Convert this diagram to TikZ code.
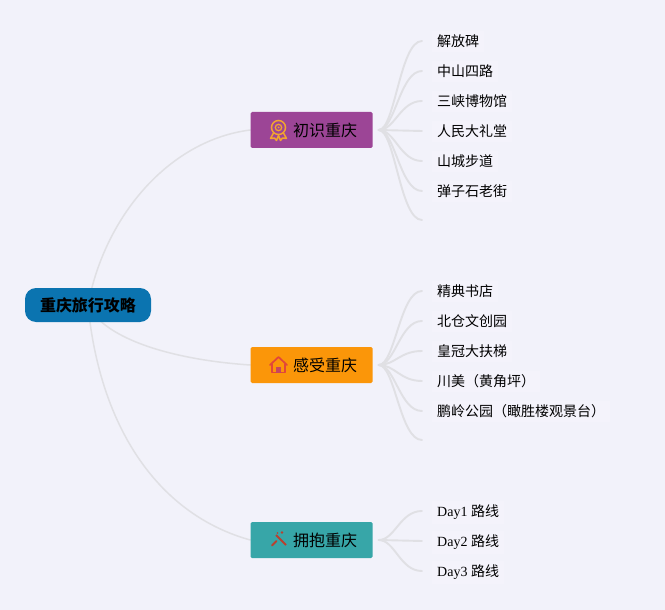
\documentclass[tikz,border=0pt]{standalone}
\usepackage{fontspec}
\usetikzlibrary{backgrounds}
\setmainfont{Liberation Serif}
\newfontfamily\cjk{Noto Sans CJK SC}
\definecolor{bgc}{HTML}{F2F2FA}
\definecolor{itemc}{HTML}{F4F3FB}
\definecolor{linkc}{HTML}{E0E0E4}
\definecolor{rootc}{HTML}{0B74B0}
\definecolor{purplec}{HTML}{9C4596}
\definecolor{orangec}{HTML}{FB9609}
\definecolor{tealc}{HTML}{37A6A8}
\definecolor{goldc}{HTML}{F2A52F}
\definecolor{redc}{HTML}{E2463A}
\definecolor{brickc}{HTML}{B9402F}
\tikzset{
  link/.style={draw=linkc,line width=1.5pt,line cap=round},
  sublink/.style={draw=linkc,line width=1.9pt,line cap=round},
  rootbox/.style={rounded corners=11pt,fill=rootc,minimum width=126pt,minimum height=34pt,inner sep=0pt,font=\cjk\fontsize{16}{18}\selectfont\bfseries,text=black},
  branchbox/.style={rounded corners=1.5pt,minimum width=122pt,minimum height=36pt,inner sep=0pt,font=\cjk\fontsize{16}{18}\selectfont,text=black},
  itembox/.style={anchor=west,fill=itemc,inner xsep=5pt,inner ysep=4pt,font=\fontsize{14}{16}\selectfont,text=black}
}
\begin{document}
\begin{tikzpicture}[x=1pt,y=-1pt]
\useasboundingbox (0,0) rectangle (665,610);

\node[itembox] (a1) at (432,41.6) {{\cjk 解放碑}};
\node[itembox] (a2) at (432,71.6) {{\cjk 中山四路}};
\node[itembox] (a3) at (432,101.6) {{\cjk 三峡博物馆}};
\node[itembox] (a4) at (432,131.6) {{\cjk 人民大礼堂}};
\node[itembox] (a5) at (432,161.6) {{\cjk 山城步道}};
\node[itembox] (a6) at (432,191.6) {{\cjk 弹子石老街}};
\coordinate (a7) at (422,220);
\node[itembox] (b1) at (432,291.6) {{\cjk 精典书店}};
\node[itembox] (b2) at (432,321.6) {{\cjk 北仓文创园}};
\node[itembox] (b3) at (432,351.6) {{\cjk 皇冠大扶梯}};
\node[itembox] (b4) at (432,381.6) {{\cjk 川美（黄角坪）}};
\node[itembox] (b5) at (432,411.6) {{\cjk 鹏岭公园（瞰胜楼观景台）}};
\coordinate (b6) at (422,440);
\node[itembox] (c1) at (432,512.4) {Day1 {\cjk 路线}};
\node[itembox] (c2) at (432,542.4) {Day2 {\cjk 路线}};
\node[itembox] (c3) at (432,572.4) {Day3 {\cjk 路线}};

\node[rootbox] (root) at (88,305) {重庆旅行攻略};
\node[branchbox,fill=purplec] (A) at (311.5,130) {\hspace*{27pt}\raisebox{-1pt}{初识重庆}};
\node[branchbox,fill=orangec] (B) at (311.5,365) {\hspace*{27pt}\raisebox{-1pt}{感受重庆}};
\node[branchbox,fill=tealc] (C) at (311.5,540) {\hspace*{27pt}\raisebox{-1pt}{拥抱重庆}};

\begin{pgfonlayer}{background}
  \fill[bgc] (0,0) rectangle (665,610);
  \path[link] (root.center) .. controls (105,215) and (170,140) .. (A.west);
  \path[link] (root.center) .. controls (105,340) and (175,360) .. (B.west);
  \path[link] (root.center) .. controls (100,430) and (160,515) .. (C.west);
  \foreach \y in {41,71,101,161,191,220}{
    \path[sublink] (A.east) ++(6,0) .. controls (395,130) and (400,\y) .. (422,\y);
  }
  \path[sublink] (A.east) ++(6,0) -- (422,131);
  \foreach \y in {291,321,351,381,411,440}{
    \path[sublink] (B.east) ++(6,0) .. controls (395,365) and (400,\y) .. (422,\y);
  }
  \foreach \y in {511,571}{
    \path[sublink] (C.east) ++(6,0) .. controls (395,540) and (400,\y) .. (422,\y);
  }
  \path[sublink] (C.east) ++(6,0) -- (422,541);
\end{pgfonlayer}

% medal icon
\begin{scope}[shift={(278.5,127.5)}]
  \draw[goldc,line width=1.5pt] (0,0) circle (7pt);
  \draw[goldc,line width=1.3pt] (0,0) circle (3.2pt);
  \fill[goldc] (0,0) circle (1pt);
  \draw[goldc,line width=1.5pt,line join=round] (-5,5.5) -- (-8,11) -- (-4,10.5) -- (-2,13) -- (0,8) -- (2,13) -- (4,10.5) -- (8,11) -- (5,5.5);
\end{scope}

% house icon
\begin{scope}[shift={(278.5,365)}]
  \draw[redc,line width=1.7pt,line join=round,line cap=round] (-8.5,0) -- (0,-8) -- (8.5,0);
  \draw[redc,line width=1.7pt,line join=round] (-6.5,-1) -- (-6.5,7.5) -- (6.5,7.5) -- (6.5,-1);
  \fill[purplec!40!redc] (-2.2,7.5) -- (-2.2,2) -- (2.2,2) -- (2.2,7.5) -- cycle;
\end{scope}

% wand icon
\begin{scope}[shift={(278.5,540)}]
  \draw[brickc,line width=2pt] (-2.5,-5) -- (7.5,5);
  \draw[brickc,line width=2pt,line cap=round] (-6.5,5.5) -- (-2,1);
  \fill[brickc] (3.5,-7.5) circle (1.3pt);
  \fill[brickc] (-1,-7) circle (.8pt);
\end{scope}
\end{tikzpicture}
\end{document}
